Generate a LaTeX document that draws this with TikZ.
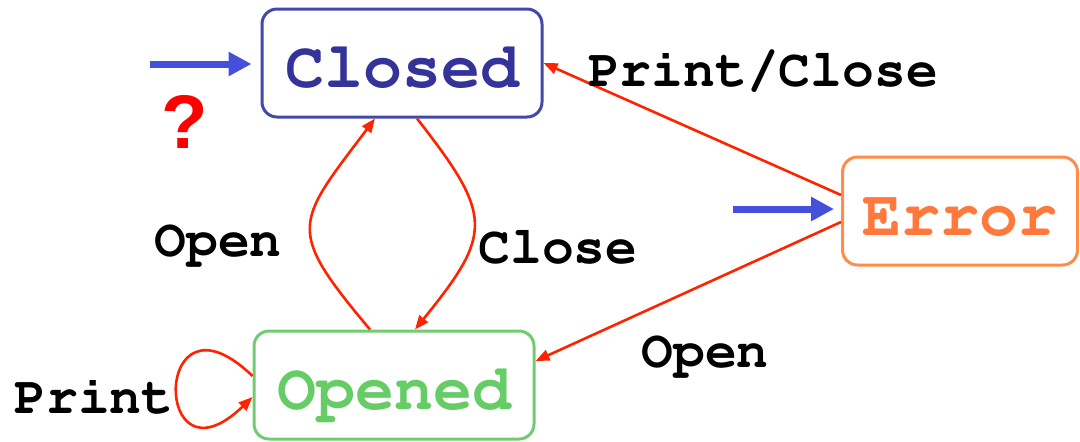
\documentclass[tikz,border=0pt]{standalone}
\usepackage[T1]{fontenc}
\usepackage{fontspec}
\newfontfamily\qfont{Liberation Sans}
\newcommand\cursorfont{\fontencoding{T1}\fontfamily{pcr}\fontseries{b}\selectfont}
\usetikzlibrary{arrows.meta,positioning}

\definecolor{closedblue}{RGB}{68,72,168}
\definecolor{closedtext}{RGB}{51,51,153}
\definecolor{openedgreen}{RGB}{112,204,112}
\definecolor{openedtext}{RGB}{102,204,102}
\definecolor{errororange}{RGB}{255,140,72}
\definecolor{errortext}{RGB}{255,120,60}
\definecolor{arrowred}{RGB}{255,36,0}
\definecolor{startblue}{RGB}{68,80,220}
\definecolor{qred}{RGB}{255,0,0}

\begin{document}
\begin{tikzpicture}[
  x=0.5pt, y=-0.5pt,
  state/.style={draw, rounded corners=7.5pt, line width=1.5pt, minimum width=140pt,
    minimum height=54pt, inner sep=0pt, text height=24pt, text depth=0pt,
    font=\fontsize{32.5}{36}\cursorfont},
  lbl/.style={anchor=base, inner sep=0pt, font=\fontsize{26.5}{30}\cursorfont},
  qmark/.style={anchor=base, inner sep=0pt, text=qred, font=\fontsize{38}{42}\selectfont\qfont\bfseries},
  trans/.style={-{Triangle[length=7pt,width=5.5pt]}, line width=1.3pt, arrowred},
  init/.style={-{Triangle[length=11.5pt,width=11.5pt]}, line width=3.5pt, startblue}
]
\useasboundingbox (0,0) rectangle (1080,441);

% states
\node[state, draw=closedblue, text=closedtext] (closed) at (402,63) {Closed};
\node[state, draw=openedgreen, text=openedtext] (opened) at (394,385) {Opened};
\node[state, draw=errororange, text=errortext, minimum width=117.5pt] (error) at (960,211) {Error};

% initial arrows
\coordinate (closedstart) at (150,64);
\coordinate (errorstart) at (733,209);
\draw[init, shorten >=4.5pt] (closedstart) -- (closedstart -| closed.west);
\draw[init, shorten >=3.5pt] (errorstart) -- (errorstart -| error.west);
\node[qmark] (unknown) at (185,148) {?};

% transitions
\draw[trans] ([xshift=-12pt]opened.north) to[out=130, in=233, looseness=1.6] ([xshift=-13.5pt]closed.south);
\draw[trans] ([xshift=7.5pt]closed.south) to[out=-52, in=51, looseness=1.5] ([xshift=10.5pt]opened.north);
\draw[trans] ([yshift=8pt]error.west) -- (closed.east);
\draw[trans] ([yshift=-5.5pt]error.west) -- ([yshift=12pt]opened.east);
\draw[trans] ([yshift=4.5pt]opened.west) to[out=136, in=224, distance=70pt] ([yshift=-6pt]opened.west);

% labels
\node[lbl] (openlbl) at (218,256) {Open};
\node[lbl] (closelbl) at (558,263) {Close};
\node[lbl] (printcloselbl) at (763,86) {Print/Close};
\node[lbl] (reopenlbl) at (705,367) {Open};
\node[lbl] (printlbl) at (94,413) {Print};
\end{tikzpicture}
\end{document}
